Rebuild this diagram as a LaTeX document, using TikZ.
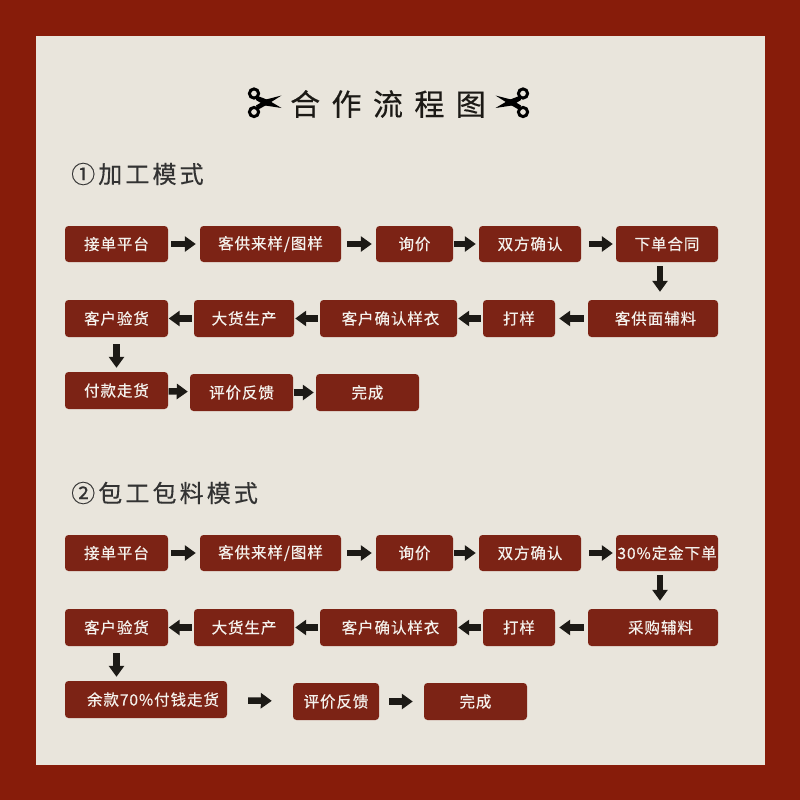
\documentclass[tikz,border=0pt]{standalone}
\usepackage{fontspec}
\setmainfont{Noto Sans CJK SC}
\newfontfamily\boxfont[LetterSpace=6,FakeBold=0.5]{Noto Sans CJK SC}
\newfontfamily\headfont[LetterSpace=13,FakeBold=0.3]{Noto Sans CJK SC}
\newfontfamily\titlefont[LetterSpace=38,FakeBold=0.4]{Noto Sans CJK SC}
\usetikzlibrary{arrows.meta}
\definecolor{frame}{HTML}{871C0A}
\definecolor{paper}{HTML}{E9E5DC}
\definecolor{boxred}{HTML}{7C2315}
\definecolor{ink}{HTML}{1C1A16}
\tikzset{
  x=1pt,y=-1pt,
  flow/.style={fill=boxred,rounded corners=3.5pt,inner sep=0pt,text=paper!50!white,
    font=\boxfont\fontsize{15.5}{18}\selectfont,anchor=center},
  conn/.style={draw=ink,line width=6.5pt,-{Triangle[length=11pt,width=15pt]}},
  heading/.style={anchor=west,inner sep=0pt,text=black!80,font=\headfont\fontsize{24}{28}\selectfont},
  titletext/.style={anchor=center,inner sep=0pt,text=ink,font=\titlefont\fontsize{30}{34}\selectfont},
  ringline/.style={draw=black,line width=3pt},
  blade/.style={fill=black,draw=none}
}
\newcommand{\flowbox}[6]{\node[flow,minimum width={(#4-#2)*1pt},minimum height={(#5-#3)*1pt}] (#1) at ({(#2+#4)/2},{(#3+#5)/2}) {#6};}
\newcommand{\link}[4]{\draw[conn,shorten <=#3pt,shorten >=#4pt] (#1) -- (#2);}
\newcommand{\scissorshape}{%
  \draw[ringline] (254,93.5) circle (4.6);
  \draw[ringline] (254,112) circle (4.6);
  \fill[blade] (256.5,95.5) -- (268,100) -- (281.5,108) -- (265,105.5) -- (256,100) -- cycle;
  \fill[blade] (256,105.5) -- (266,99.5) -- (281.5,95.5) -- (268,104) -- (257.5,110) -- cycle;
}
\begin{document}
\begin{tikzpicture}
\useasboundingbox (0,0) rectangle (800,800);
\fill[frame] (0,0) rectangle (800,800);
\fill[paper] (36,36) rectangle (765,765);

% title
\node[titletext] (title) at (388,104) {合作流程图};
\scissorshape
\begin{scope}[xshift=777pt,xscale=-1]
\scissorshape
\end{scope}

% section 1
\node[heading] (h1) at (71,174) {①加工模式};
\flowbox{a1}{65}{226}{168}{262}{接单平台}
\flowbox{a2}{200}{226}{341}{262}{客供来样/图样}
\flowbox{a3}{376}{226}{453}{262}{询价}
\flowbox{a4}{479}{226}{581}{262}{双方确认}
\flowbox{a5}{616}{226}{718}{262}{下单合同}
\flowbox{b5}{588}{300}{718}{337}{\hspace*{5pt}客供面辅料}
\flowbox{b4}{483}{300}{555}{337}{打样}
\flowbox{b3}{320}{300}{457}{337}{\hspace*{4pt}客户确认样衣}
\flowbox{b2}{194}{300}{294}{337}{大货生产}
\flowbox{b1}{65}{300}{168}{337}{客户验货}
\flowbox{c1}{65}{372}{168}{409}{付款走货}
\flowbox{c2}{190}{374}{293}{411}{评价反馈}
\flowbox{c3}{316}{374}{419}{411}{完成}
\link{a1}{a2}{3}{4}
\link{a2}{a3}{6}{4}
\link{a3}{a4}{1}{3}
\link{a4}{a5}{8}{3}
\draw[conn,shorten <=4pt,shorten >=8pt] ([xshift=-7pt]a5.south) -- ([xshift=-7pt]a5.south |- b5.north);
\link{b5}{b4}{4}{4}
\link{b4}{b3}{2}{1}
\link{b3}{b2}{2}{1}
\link{b2}{b1}{2}{0.5}
\draw[conn,shorten <=7pt,shorten >=4pt] (b1.south) -- (c1.north);
\link{c1}{c2}{0.5}{2}
\link{c2}{c3}{0.5}{2}

% section 2
\node[heading] (h2) at (71,493) {②包工包料模式};
\flowbox{d1}{65}{535}{168}{571}{接单平台}
\flowbox{d2}{200}{535}{341}{571}{客供来样/图样}
\flowbox{d3}{376}{535}{453}{571}{询价}
\flowbox{d4}{479}{535}{581}{571}{双方确认}
\flowbox{d5}{616}{535}{718}{571}{30\%定金下单}
\flowbox{e5}{588}{609}{718}{646}{\hspace*{15pt}采购辅料}
\flowbox{e4}{483}{609}{555}{646}{打样}
\flowbox{e3}{320}{609}{457}{646}{\hspace*{4pt}客户确认样衣}
\flowbox{e2}{194}{609}{294}{646}{大货生产}
\flowbox{e1}{65}{609}{168}{646}{客户验货}
\flowbox{f1}{65}{681}{227}{718}{\hspace*{14pt}余款70\%付钱走货}
\flowbox{f2}{293}{683}{379}{720}{评价反馈}
\flowbox{f3}{424}{683}{527}{720}{完成}
\link{d1}{d2}{3}{4}
\link{d2}{d3}{6}{4}
\link{d3}{d4}{1}{3}
\link{d4}{d5}{8}{3}
\draw[conn,shorten <=4pt,shorten >=8pt] ([xshift=-7pt]d5.south) -- ([xshift=-7pt]d5.south |- e5.north);
\link{e5}{e4}{4}{4}
\link{e4}{e3}{2}{1}
\link{e3}{e2}{2}{1}
\link{e2}{e1}{2}{0.5}
\draw[conn,shorten <=7pt,shorten >=4pt] (e1.south) -- (f1.north -| e1.south);
\link{f1}{f2}{21}{21}
\link{f2}{f3}{10}{11}
\end{tikzpicture}
\end{document}
